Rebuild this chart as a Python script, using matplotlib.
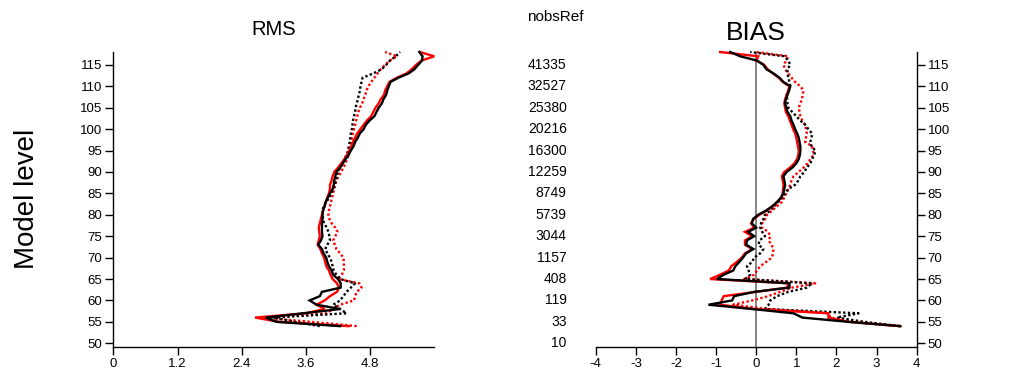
import matplotlib
matplotlib.use("Agg")
import matplotlib.pyplot as plt
from matplotlib.transforms import blended_transform_factory

plt.rcParams['font.family'] = ['Liberation Sans', 'DejaVu Sans']
plt.rcParams['axes.unicode_minus'] = False

# model levels (bottom to top)
levels = list(range(54, 119))

# RMS profiles
rms_black = [4.24, 3.05, 2.85, 3.55, 4.24, 3.80, 3.67, 3.86, 3.90, 4.25,
             4.25, 4.20, 4.11, 4.08, 4.03, 4.00, 3.98, 3.93, 3.90, 3.83,
             3.88, 3.91, 3.90, 3.90, 3.90, 3.91, 3.91, 3.92, 3.95, 3.97,
             4.01, 4.05, 4.10, 4.12, 4.13, 4.15, 4.17, 4.24, 4.29, 4.34,
             4.40, 4.44, 4.49, 4.52, 4.57, 4.61, 4.68, 4.72, 4.79, 4.88,
             4.92, 4.96, 5.02, 5.05, 5.10, 5.12, 5.15, 5.18, 5.33, 5.52,
             5.63, 5.70, 5.77, 5.78, 5.72]
rms_red = [4.40, 3.10, 2.65, 3.60, 3.95, 3.80, 3.95, 4.05, 4.18, 4.22,
           4.18, 4.10, 4.06, 4.03, 3.98, 3.96, 3.94, 3.90, 3.87, 3.82,
           3.84, 3.86, 3.85, 3.84, 3.86, 3.88, 3.90, 3.92, 3.95, 3.97,
           4.00, 4.03, 4.05, 4.05, 4.08, 4.10, 4.13, 4.20, 4.26, 4.32,
           4.37, 4.41, 4.45, 4.48, 4.52, 4.56, 4.62, 4.68, 4.74, 4.82,
           4.86, 4.90, 4.96, 5.00, 5.06, 5.08, 5.12, 5.16, 5.30, 5.48,
           5.58, 5.66, 5.76, 6.00, 5.73]
rms_black_dot = [3.86, 3.40, 2.99, 4.36, 4.24, 4.11, 4.24, 4.30, 4.36, 4.44,
                 4.52, 4.24, 4.17, 4.12, 4.10, 4.08, 4.05, 4.00, 3.96, 4.00,
                 4.05, 4.04, 4.02, 3.99, 3.94, 3.92, 3.91, 3.91, 3.93, 3.98,
                 4.04, 4.07, 4.11, 4.14, 4.16, 4.18, 4.20, 4.24, 4.28, 4.32,
                 4.36, 4.39, 4.40, 4.42, 4.43, 4.44, 4.46, 4.47, 4.48, 4.50,
                 4.52, 4.53, 4.55, 4.57, 4.59, 4.61, 4.62, 4.64, 4.66, 4.86,
                 5.02, 5.10, 5.17, 5.28, 5.36]
rms_red_dot = [4.55, 3.70, 2.80, 4.00, 4.10, 4.24, 4.50, 4.52, 4.55, 4.64,
               4.60, 4.20, 4.27, 4.31, 4.31, 4.31, 4.30, 4.24, 4.17, 4.14,
               4.11, 4.15, 4.19, 4.15, 4.08, 4.04, 4.02, 4.03, 4.05, 4.07,
               4.09, 4.11, 4.13, 4.15, 4.17, 4.21, 4.26, 4.30, 4.34, 4.37,
               4.40, 4.41, 4.43, 4.45, 4.46, 4.48, 4.50, 4.52, 4.54, 4.56,
               4.58, 4.61, 4.65, 4.68, 4.71, 4.73, 4.77, 4.82, 4.88, 4.94,
               5.00, 5.08, 5.17, 5.30, 5.08]

# BIAS profiles
bias_black = [3.59, 2.30, 1.15, 0.93, -0.10, -1.19, -0.60, -0.55, -0.05, 0.83,
              0.83, -0.98, -0.81, -0.57, -0.52, -0.42, -0.33, -0.25, -0.07, -0.25,
              -0.23, -0.05, -0.20, 0.00, -0.11, -0.08, 0.05, 0.25, 0.40, 0.52,
              0.62, 0.68, 0.70, 0.72, 0.70, 0.68, 0.76, 0.90, 1.00, 1.06,
              1.09, 1.10, 1.10, 1.08, 1.06, 1.02, 0.97, 0.93, 0.88, 0.85,
              0.78, 0.75, 0.72, 0.74, 0.78, 0.82, 0.85, 0.68, 0.58, 0.43,
              0.25, 0.18, 0.02, -0.40, -0.65]
bias_red = [3.59, 2.30, 1.80, 1.80, -0.05, -0.90, -0.86, -0.81, 0.00, 0.78,
            0.80, -1.15, -0.90, -0.68, -0.62, -0.48, -0.36, -0.28, -0.10, -0.28,
            -0.28, -0.10, -0.28, -0.05, -0.13, -0.06, 0.08, 0.27, 0.42, 0.53,
            0.62, 0.66, 0.67, 0.68, 0.66, 0.64, 0.70, 0.84, 0.95, 1.02,
            1.05, 1.06, 1.04, 1.02, 1.00, 0.97, 0.92, 0.88, 0.84, 0.80,
            0.74, 0.72, 0.70, 0.72, 0.76, 0.80, 0.83, 0.66, 0.56, 0.42,
            0.28, 0.20, 0.00, 0.05, -0.90]
bias_black_dot = [3.59, 2.70, 2.01, 2.55, 0.22, 0.31, 0.35, 0.52, 0.80, 1.26,
                  1.39, -0.27, -0.15, -0.19, -0.23, -0.10, -0.05, 0.10, 0.18, 0.06,
                  0.08, 0.22, 0.15, 0.10, 0.12, 0.18, 0.22, 0.35, 0.45, 0.55,
                  0.65, 0.72, 0.80, 0.97, 1.05, 1.10, 1.20, 1.26, 1.35, 1.39,
                  1.45, 1.47, 1.38, 1.35, 1.38, 1.39, 1.30, 1.22, 1.10, 1.00,
                  0.90, 0.80, 0.78, 0.77, 0.76, 0.80, 0.85, 0.83, 0.80, 0.78,
                  0.78, 0.85, 0.80, 0.70, -0.15]
bias_red_dot = [3.59, 2.40, 1.85, 1.80, 0.27, -0.57, -0.10, 0.30, 0.60, 0.90,
                1.47, -0.30, -0.05, 0.02, 0.10, 0.25, 0.39, 0.42, 0.43, 0.38,
                0.31, 0.35, 0.30, 0.14, 0.15, 0.22, 0.27, 0.40, 0.52, 0.64,
                0.70, 0.75, 0.80, 0.85, 0.88, 0.93, 1.06, 1.18, 1.28, 1.35,
                1.43, 1.42, 1.39, 1.22, 1.24, 1.26, 1.24, 1.22, 1.15, 1.10,
                1.08, 1.06, 1.10, 1.14, 1.16, 1.18, 1.10, 0.97, 0.88, 0.80,
                0.72, 0.68, 0.75, 0.80, 0.00]

# number of reference observations per labelled level
nobs_levels = [115, 110, 105, 100, 95, 90, 85, 80, 75, 70, 65, 60, 55, 50]
nobs_ref = [41335, 32527, 25380, 20216, 16300, 12259, 8749, 5739, 3044,
            1157, 408, 119, 33, 10]

ytick_vals = list(range(50, 116, 5))
rms_ticks = [0, 1.2, 2.4, 3.6, 4.8]
bias_ticks = [-4, -3, -2, -1, 0, 1, 2, 3, 4]

W, H = 1016, 373
fig = plt.figure(figsize=(W / 100, H / 100), dpi=100)

bottom_px, top_px = 346.7, 52.0
ax_b = 1 - bottom_px / H
ax_h = (bottom_px - top_px) / H
ylim = (49.2, 118.0)

ax1 = fig.add_axes([113.3 / W, ax_b, (434.3 - 113.3) / W, ax_h])
ax2 = fig.add_axes([595.7 / W, ax_b, (916.7 - 595.7) / W, ax_h])

lw = 1.7
dotted = (0, (1, 1))
style = [
    (dotted, 'red'), (dotted, 'black'), ('-', 'red'), ('-', 'black'),
]

for ax, series in ((ax1, (rms_red_dot, rms_black_dot, rms_red, rms_black)),
                   (ax2, (bias_red_dot, bias_black_dot, bias_red, bias_black))):
    if ax is ax2:
        ax.axvline(0, color='#7a7a7a', lw=1.3, zorder=1)
    for vals, (ls, col) in zip(series, style):
        ax.plot(vals, levels, ls=ls, color=col, lw=lw, clip_on=False,
                zorder=3, solid_joinstyle='miter')
    ax.set_ylim(*ylim)
    ax.spines['top'].set_visible(False)
    for s in ax.spines.values():
        s.set_linewidth(1.0)
    ax.tick_params(direction='out', length=6, width=1.0, labelsize=9.5,
                   pad=2)

ax1.set_xlim(0, 6)
ax1.set_xticks(rms_ticks)
ax1.set_xticklabels(['0', '1.2', '2.4', '3.6', '4.8'])
ax1.set_yticks(ytick_vals)
ax1.spines['right'].set_visible(False)
ax1.set_ylabel('Model level', fontsize=20, labelpad=29)
ax1.set_title('RMS', fontsize=14.5, pad=12)

ax2.set_xlim(-4, 4)
ax2.set_xticks(bias_ticks)
ax2.set_yticks(ytick_vals)
ax2.spines['left'].set_visible(False)
ax2.yaxis.tick_right()
ax2.set_title('BIAS', fontsize=19, pad=9)

tr = blended_transform_factory(fig.transFigure, ax2.transData)
for lev, n in zip(nobs_levels, nobs_ref):
    fig.text(566.7 / W, lev, str(n), transform=tr, ha='right', va='center',
             fontsize=10)
fig.text(555.7 / W, 1 - 17 / H, 'nobsRef', ha='center', va='center',
         fontsize=11)

fig.savefig('out.png', dpi=100)
